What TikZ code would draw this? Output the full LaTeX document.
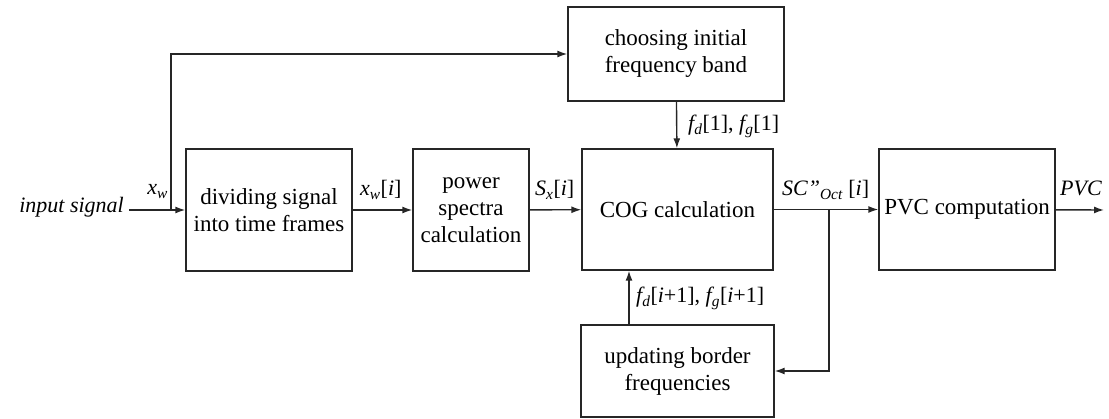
\documentclass[tikz,border=0pt]{standalone}
\usepackage{fontspec}
\setmainfont{LiberationSerif}[Extension=.ttf, UprightFont=*-Regular, ItalicFont=*-Italic, BoldFont=*-Bold, BoldItalicFont=*-BoldItalic]
\usetikzlibrary{arrows.meta}
\newcommand{\isub}[1]{\textsubscript{\itshape #1}}
\newcommand{\idx}[1]{\upshape[\itshape #1\upshape]}
\tikzset{
  blk/.style={draw=black!85, line width=1.4pt, inner sep=0pt, align=center,
    font=\fontsize{23}{27}\selectfont},
  arr/.style={draw=black!85, line width=1.4pt, -{Latex[length=10pt,width=7pt]}},
  lbl/.style={inner sep=0pt, font=\fontsize{22}{26}\selectfont}
}
\begin{document}
\begin{tikzpicture}[x=1pt,y=-1pt]
  \useasboundingbox (0,0) rectangle (1109,419);
  % processing blocks
  \node[blk, minimum width=166pt, minimum height=122pt] (div) at (269,210) {dividing signal\\into time frames};
  \node[blk, minimum width=116pt, minimum height=122pt] (pow) at (471,210) {power\\spectra\\calculation};
  \node[blk, minimum width=191pt, minimum height=121pt] (cog) at (677.5,209.5) {COG calculation};
  \node[blk, minimum width=176pt, minimum height=121pt] (pvc) at (967,209.5) {PVC computation};
  \node[blk, minimum width=216pt, minimum height=94pt] (choose) at (676,54) {choosing initial\\frequency band};
  \node[blk, minimum width=193pt, minimum height=92pt] (upd) at (677.5,371) {updating border\\frequencies};
  % free ends and branch points
  \coordinate (in) at (129,210);
  \coordinate (br) at (171,210);
  \coordinate (sp) at (829,210);
  \coordinate (out) at (1104,210);
  % signal flow
  \draw[arr] (in) -- (div.west);
  \draw[arr] (br) |- (choose.west);
  \draw[arr] (div) -- (pow);
  \draw[arr] (pow) -- (cog);
  \draw[arr] (choose) -- (cog);
  \draw[arr] (cog) -- (pvc);
  \draw[arr] (pvc) -- (out);
  \draw[arr] (sp) |- (upd.east);
  \draw[arr] ([xshift=-48.5pt]upd.north) -- ([xshift=-48.5pt]cog.south);
  % signal labels
  \node[lbl, anchor=base east] (lin) at (124,213) {\itshape input signal};
  \node[lbl, anchor=base east] (lxw) at (168,195) {\itshape x\isub{w}};
  \node[lbl, anchor=base west] (lxwi) at (360,196) {\itshape x\isub{w}\idx{i}};
  \node[lbl, anchor=base west] (lsx) at (535,196) {\itshape S\isub{x}\idx{i}};
  \node[lbl, anchor=base west] (lsc) at (782,196) {\itshape SC”\isub{Oct} \idx{i}};
  \node[lbl, anchor=base west] (lpvc) at (1060,196) {\itshape PVC};
  \node[lbl, anchor=base west] (lf1) at (688,131) {\itshape f\isub{d}\upshape[1], \itshape f\isub{g}\upshape[1]};
  \node[lbl, anchor=base west] (lfi) at (636,303) {\itshape f\isub{d}\upshape[\itshape i\upshape+1], \itshape f\isub{g}\upshape[\itshape i\upshape+1]};
\end{tikzpicture}
\end{document}
